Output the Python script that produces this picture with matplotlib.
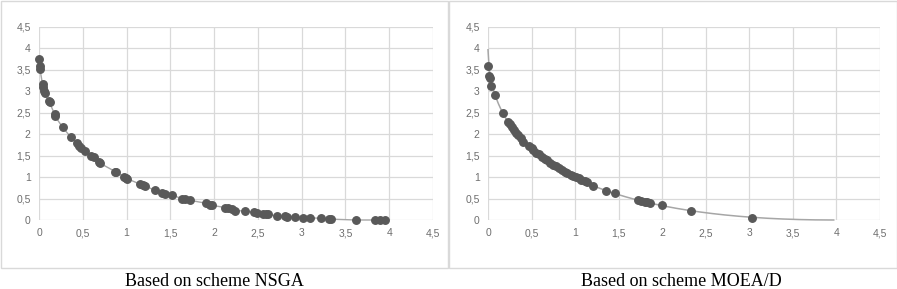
import numpy as np
import matplotlib
matplotlib.use("Agg")
import matplotlib.pyplot as plt
from matplotlib.patches import Rectangle
from matplotlib.ticker import FuncFormatter

# Pareto front obtained with NSGA
nsga_x = [0.00, 0.01, 0.01, 0.04, 0.05, 0.06, 0.07, 0.11, 0.12, 0.18, 0.18, 0.27, 0.36,
          0.43, 0.46, 0.48, 0.52, 0.59, 0.63, 0.69, 0.70, 0.87, 0.88, 0.97, 0.99, 1.01,
          1.15, 1.19, 1.21, 1.32, 1.41, 1.44, 1.52, 1.63, 1.67, 1.72, 1.91, 1.95, 1.98,
          2.13, 2.16, 2.21, 2.24, 2.35, 2.45, 2.49, 2.56, 2.59, 2.61, 2.72, 2.81, 2.83,
          2.92, 3.01, 3.09, 3.22, 3.31, 3.33, 3.62, 3.84, 3.90, 3.95]
nsga_y = [3.76, 3.58, 3.53, 3.17, 3.09, 3.01, 2.95, 2.78, 2.74, 2.46, 2.43, 2.16, 1.94,
          1.79, 1.73, 1.68, 1.61, 1.50, 1.46, 1.35, 1.32, 1.13, 1.11, 1.01, 0.99, 0.96,
          0.84, 0.81, 0.79, 0.70, 0.64, 0.61, 0.58, 0.50, 0.48, 0.46, 0.39, 0.36, 0.34,
          0.29, 0.27, 0.26, 0.22, 0.21, 0.18, 0.16, 0.14, 0.13, 0.14, 0.09, 0.085, 0.07,
          0.07, 0.05, 0.05, 0.04, 0.02, 0.02, 0.0, 0.0, 0.0, 0.0]

# Pareto front obtained with MOEA/D
moead_x = [0.00, 0.01, 0.02, 0.04, 0.08, 0.17, 0.23, 0.25, 0.27, 0.30, 0.32, 0.35, 0.38,
           0.40, 0.47, 0.50, 0.52, 0.55, 0.58, 0.62, 0.66, 0.68, 0.71, 0.75, 0.78, 0.81,
           0.85, 0.88, 0.91, 0.95, 0.98, 1.01, 1.04, 1.07, 1.11, 1.14, 1.21, 1.35, 1.46,
           1.72, 1.76, 1.80, 1.83, 1.86, 2.00, 2.33, 3.03]
moead_y = [3.58, 3.36, 3.30, 3.13, 2.92, 2.50, 2.28, 2.23, 2.17, 2.10, 2.04, 1.98, 1.91,
           1.83, 1.73, 1.67, 1.63, 1.57, 1.53, 1.48, 1.43, 1.39, 1.34, 1.29, 1.26, 1.22,
           1.17, 1.13, 1.09, 1.06, 1.03, 1.00, 0.97, 0.94, 0.91, 0.88, 0.80, 0.68, 0.62,
           0.46, 0.44, 0.43, 0.41, 0.40, 0.34, 0.21, 0.05]

captions = ["Based on scheme NSGA", "Based on scheme MOEA/D"]
ticks = np.arange(0, 4.51, 0.5)

W, H = 897, 289
fig = plt.figure(figsize=(W / 100, H / 100), dpi=100)

def comma(v, pos):
    return ("%g" % v).replace(".", ",")

# panel frames
for x0 in (0.5, 449):
    fig.patches.append(Rectangle((x0 / W, 1 - 268 / H), 447.5 / W, 267.5 / H,
                                 transform=fig.transFigure, fill=False,
                                 edgecolor="#d9d9d9", linewidth=1))

axL = fig.add_axes([39 / W, 1 - 220 / H, (433 - 39) / W, (220 - 27) / H])
axR = fig.add_axes([488 / W, 1 - 220 / H, (880 - 488) / W, (220 - 27) / H])

for ax in (axL, axR):
    ax.set_xlim(0, 4.5)
    ax.set_ylim(0, 4.5)
    ax.set_xticks(ticks)
    ax.set_yticks(ticks)
    ax.xaxis.set_major_formatter(FuncFormatter(comma))
    ax.yaxis.set_major_formatter(FuncFormatter(comma))
    ax.grid(True, color="#d9d9d9", linewidth=0.9)
    ax.set_axisbelow(True)
    for sp in ax.spines.values():
        sp.set_visible(False)
    ax.tick_params(length=0, labelsize=7.5, labelcolor="#6e6e6e", pad=6)
    for lab in ax.get_xticklabels() + ax.get_yticklabels():
        lab.set_fontfamily("Liberation Sans")

# NSGA: points joined by a thin line
order = np.argsort(nsga_x, kind="stable")
axL.plot(np.array(nsga_x)[order], np.array(nsga_y)[order], color="#a6a6a6",
         linewidth=1, zorder=2, clip_on=False)
axL.plot(nsga_x, nsga_y, "o", color="#595959", markersize=5.4, zorder=3, clip_on=False)

# MOEA/D: points with a trend curve sqrt(x) + sqrt(y) = c fitted to them
c = np.mean(np.sqrt(moead_x) + np.sqrt(moead_y))
tx = np.linspace(0, c ** 2, 300)
ty = (c - np.sqrt(tx)) ** 2
axR.plot(tx, ty, color="#a6a6a6", linewidth=1.1, zorder=2, clip_on=False)
axR.plot(moead_x, moead_y, "o", color="#595959", markersize=5.4, zorder=3, clip_on=False)

fig.text(214 / W, 1 - 282 / H, captions[0], ha="center", va="center",
         fontsize=13, family="Liberation Serif")
fig.text(681 / W, 1 - 282 / H, captions[1], ha="center", va="center",
         fontsize=13, family="Liberation Serif")

fig.savefig("out.png", dpi=100)
